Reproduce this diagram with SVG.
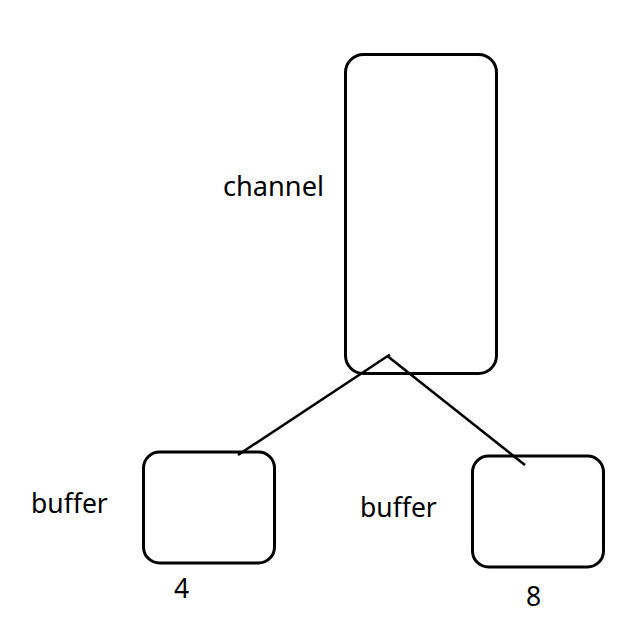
<svg xmlns="http://www.w3.org/2000/svg" width="634" height="626" viewBox="0 0 634 626">
<style>
.box{fill:none;stroke:#000;stroke-width:3}
.lbl{font-family:"Noto Sans","Open Sans","Liberation Sans",sans-serif;font-size:26.5px;fill:#000}
.edge{stroke:#000;stroke-width:2.5;fill:none}
</style>
<rect width="634" height="626" fill="#fff"/>
<g id="channel">
<rect class="box" x="345.5" y="54.5" width="151" height="319" rx="18"/>
<text class="lbl" x="223" y="196" textLength="101" lengthAdjust="spacingAndGlyphs">channel</text>
</g>
<g id="buffer4">
<rect class="box" x="143.5" y="452" width="131" height="111" rx="16"/>
<text class="lbl" x="31" y="513">buffer</text>
<text class="lbl" x="174" y="598">4</text>
</g>
<g id="buffer8">
<rect class="box" x="472.5" y="456" width="131" height="111" rx="16"/>
<text class="lbl" x="360" y="517">buffer</text>
<text class="lbl" x="526" y="606">8</text>
</g>
<g id="connectors">
<line class="edge" x1="390" y1="354.5" x2="238" y2="455"/>
<line class="edge" x1="388" y1="356.5" x2="525" y2="465"/>
</g>
</svg>
